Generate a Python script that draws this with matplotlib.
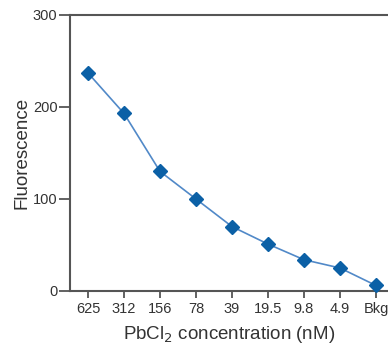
import matplotlib
matplotlib.use("Agg")
import matplotlib.pyplot as plt

concentrations = ["625", "312", "156", "78", "39", "19.5", "9.8", "4.9", "Bkg"]
fluorescence = [237, 193, 130, 100, 70, 51, 34, 25, 6]

plt.rcParams['font.family'] = ['Liberation Sans', 'DejaVu Sans']

fig = plt.figure(figsize=(3.88, 3.48), dpi=100)
ax = fig.add_axes([70 / 388, 57 / 348, 318 / 388, 276 / 348])

x = range(len(concentrations))
ax.plot(x, fluorescence, color="#5189c8", linewidth=1.2, marker="D",
        markersize=7.5, markerfacecolor="#0b60a6", markeredgecolor="#0b60a6",
        clip_on=False, zorder=3)

ax.set_xlim(-0.5, -0.5 + 318 / 36)
ax.set_ylim(0, 300)
ax.set_xticks(list(x))
ax.set_xticklabels(concentrations)
ax.set_yticks([0, 100, 200, 300])

for side in ["left", "bottom", "top"]:
    ax.spines[side].set_color("#555555")
    ax.spines[side].set_linewidth(1.5)
ax.spines["right"].set_visible(False)

ax.tick_params(axis="y", direction="out", length=8, width=1.3, color="#555555",
               labelsize=10.5, labelcolor="#333333", pad=1)
ax.tick_params(axis="x", direction="out", length=5, width=1.3, color="#555555",
               labelsize=10.5, labelcolor="#333333", pad=3)

ax.set_ylabel("Fluorescence", fontsize=13.5, color="#333333", labelpad=2)
ax.set_xlabel("PbCl$_2$ concentration (nM)", fontsize=13.5, color="#333333", labelpad=6)

fig.savefig("out.png", dpi=100)
